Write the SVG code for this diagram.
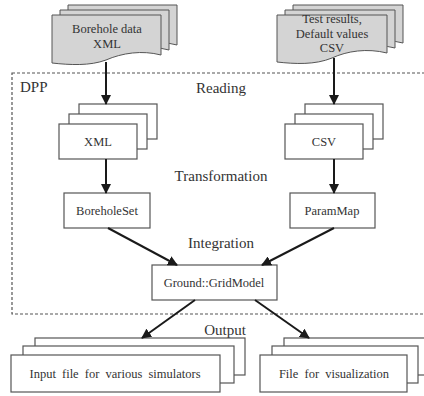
<svg xmlns="http://www.w3.org/2000/svg" width="424" height="396" viewBox="0 0 424 396">
<defs>
<style>
text{font-family:'Liberation Serif','DejaVu Serif',serif;fill:#333;text-anchor:middle}
.lbl{font-size:15px}
.t{font-size:12.5px}
.doc{fill:#d4d4d4;stroke:#555;stroke-width:1}
.box{fill:#fff;stroke:#555;stroke-width:1.2}
.edge{stroke:#1a1a1a;stroke-width:2;fill:none;marker-end:url(#ah)}
</style>
<marker id="ah" viewBox="0 0 10 10" refX="9" refY="5" markerWidth="5" markerHeight="5" orient="auto" markerUnits="strokeWidth">
<path d="M0,0 L10,5 L0,10 Z" fill="#1a1a1a"/>
</marker>
<path id="docL" d="M0,0 H109 V40 C90,35 70,38 54,45 C38,51 18,50 0,48 Z"/>
<path id="docR" d="M0,0 H110 V38 C90,33 70,36 55,43 C38,50 18,49 0,47 Z"/>
</defs>
<rect x="12" y="73" width="430" height="241" fill="none" stroke="#555" stroke-width="1.2" stroke-dasharray="3,2"/>
<g id="labels" font-family="Liberation Serif, serif">
<text class="lbl" x="20" y="92" style="text-anchor:start">DPP</text>
<text class="lbl" x="221" y="93">Reading</text>
<text class="lbl" x="221" y="181">Transformation</text>
<text class="lbl" x="221" y="248">Integration</text>
<text class="lbl" x="225" y="335">Output</text>
</g>
<g id="borehole-data" font-family="Liberation Serif, serif">
<use href="#docL" class="doc" x="68" y="5"/>
<use href="#docL" class="doc" x="60" y="10"/>
<use href="#docL" class="doc" x="52" y="15"/>
<text class="t" x="107" y="33">Borehole data</text>
<text class="t" x="107" y="48">XML</text>
</g>
<g id="test-results" font-family="Liberation Serif, serif">
<use href="#docR" class="doc" x="293" y="5"/>
<use href="#docR" class="doc" x="285" y="10"/>
<use href="#docR" class="doc" x="277" y="15"/>
<text class="t" x="332" y="23">Test results,</text>
<text class="t" x="332" y="38">Default values</text>
<text class="t" x="332" y="52">CSV</text>
</g>
<g id="xml" font-family="Liberation Serif, serif">
<rect class="box" x="79" y="104" width="78" height="35"/>
<rect class="box" x="69" y="114" width="78" height="35"/>
<rect class="box" x="59" y="124" width="78" height="35"/>
<text class="t" x="98" y="146">XML</text>
</g>
<g id="csv" font-family="Liberation Serif, serif">
<rect class="box" x="305" y="104" width="78" height="35"/>
<rect class="box" x="295" y="114" width="78" height="35"/>
<rect class="box" x="285" y="124" width="78" height="35"/>
<text class="t" x="324" y="146">CSV</text>
</g>
<g id="boreholeset" font-family="Liberation Serif, serif">
<rect class="box" x="64" y="193" width="86" height="35"/>
<text class="t" x="107" y="215">BoreholeSet</text>
</g>
<g id="parammap" font-family="Liberation Serif, serif">
<rect class="box" x="290" y="193" width="85" height="35"/>
<text class="t" x="332" y="215">ParamMap</text>
</g>
<g id="gridmodel" font-family="Liberation Serif, serif">
<rect class="box" x="152" y="265" width="125" height="35"/>
<text class="t" x="214" y="287">Ground::GridModel</text>
</g>
<g id="input-file" font-family="Liberation Serif, serif">
<rect class="box" x="35" y="338" width="210" height="37"/>
<rect class="box" x="23" y="346" width="211" height="37"/>
<rect class="box" x="11" y="355" width="209" height="37"/>
<text class="t" x="115" y="378" style="word-spacing:3px">Input file for various simulators</text>
</g>
<g id="vis-file" font-family="Liberation Serif, serif">
<rect class="box" x="284" y="338" width="150" height="37"/>
<rect class="box" x="272" y="346" width="146" height="37"/>
<rect class="box" x="260" y="355" width="147" height="37"/>
<text class="t" x="334" y="378" style="word-spacing:3px">File for visualization</text>
</g>
<g id="connectors">
<line class="edge" x1="106" y1="62" x2="106" y2="104"/>
<line class="edge" x1="334" y1="58" x2="334" y2="104"/>
<line class="edge" x1="106" y1="159" x2="106" y2="193"/>
<line class="edge" x1="334" y1="159" x2="334" y2="193"/>
<line class="edge" x1="108" y1="228" x2="177" y2="265"/>
<line class="edge" x1="334" y1="228" x2="262" y2="265"/>
<line class="edge" x1="195" y1="300" x2="142" y2="338"/>
<line class="edge" x1="255" y1="300" x2="309" y2="338"/>
</g>
</svg>
